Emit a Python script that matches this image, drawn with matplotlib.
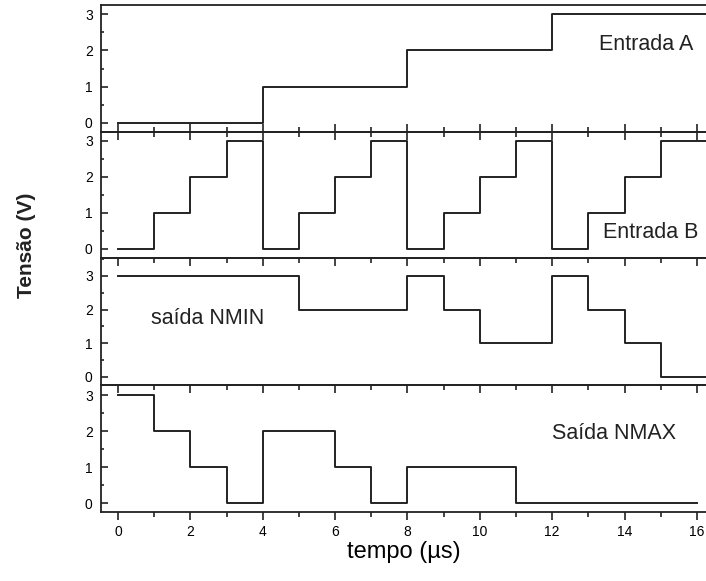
import matplotlib.pyplot as plt
from matplotlib.ticker import MultipleLocator

plt.rcParams['font.family'] = ['Liberation Sans', 'DejaVu Sans']

# tempo (us) - one value per 1 us interval
t = list(range(17))
entrada_a = [0, 0, 0, 0, 1, 1, 1, 1, 2, 2, 2, 2, 3, 3, 3, 3]
entrada_b = [0, 1, 2, 3, 0, 1, 2, 3, 0, 1, 2, 3, 0, 1, 2, 3]
saida_nmin = [3, 3, 3, 3, 3, 2, 2, 2, 3, 2, 1, 1, 3, 2, 1, 0]
saida_nmax = [3, 2, 1, 0, 2, 2, 1, 0, 1, 1, 1, 0, 0, 0, 0, 0]

labels = ['Entrada A', 'Entrada B', 'saída NMIN', 'Saída NMAX']
label_pos = [(13.3, 2.15), (13.4, 0.45), (0.9, 1.72), (12.0, 1.94)]
series = [entrada_a, entrada_b, saida_nmin, saida_nmax]
t_end = [16.6, 16.6, 16.6, 16]

W, H = 706, 581
fig = plt.figure(figsize=(W / 100, H / 100), dpi=100)

# panel bounds in pixels (top, bottom)
bounds = [(5, 132), (132, 258), (258, 385), (385, 512)]
ylims = [(-0.25, 3.25), (-0.25, 3.25), (-0.24, 3.53), (-0.25, 3.28)]
left, right = 101, 707
col = '#222222'

for i in range(4):
    top, bot = bounds[i]
    ax = fig.add_axes([left / W, 1 - bot / H, (right - left) / W, (bot - top) / H])
    ax.set_facecolor('none')
    x = t[:16] + [t_end[i]]
    y = series[i] + [series[i][-1]]
    ax.step(x, y, where='post', color=col, lw=1.4)
    ax.set_xlim(-0.47, 16.28)
    ax.set_ylim(*ylims[i])
    ax.yaxis.set_major_locator(MultipleLocator(1))
    ax.yaxis.set_minor_locator(MultipleLocator(0.5))
    ax.xaxis.set_major_locator(MultipleLocator(2))
    ax.xaxis.set_minor_locator(MultipleLocator(1))
    for s in ax.spines.values():
        s.set_color(col)
        s.set_linewidth(1.3)
    ax.tick_params(axis='y', which='both', direction='in', color=col, labelsize=10, pad=6)
    ax.tick_params(axis='y', which='major', length=5, width=1.2)
    ax.tick_params(axis='y', which='minor', length=2.5, width=1.2)
    if i == 0:
        ax.tick_params(axis='x', which='both', direction='in', bottom=True, top=False,
                       labelbottom=False, color=col)
    else:
        ax.tick_params(axis='x', which='both', direction='in', bottom=False, top=True,
                       labelbottom=False, color=col)
    ax.tick_params(axis='x', which='major', length=6, width=1.2)
    ax.tick_params(axis='x', which='minor', length=3.5, width=1.2)
    ax.text(label_pos[i][0], label_pos[i][1], labels[i], fontsize=15.5,
            ha='left', va='center', color=col)
    if i == 3:
        sec = ax.secondary_xaxis('bottom')
        sec.xaxis.set_major_locator(MultipleLocator(2))
        sec.xaxis.set_minor_locator(MultipleLocator(1))
        sec.spines['bottom'].set_visible(False)
        sec.tick_params(which='both', direction='out', color=col, labelsize=10, pad=3)
        sec.tick_params(which='major', length=6, width=1.2)
        sec.tick_params(which='minor', length=3.5, width=1.2)
        sec.set_xlabel('tempo (µs)', fontsize=17, labelpad=2)

fig.text(26 / W, 1 - 245 / H, 'Tensão (V)', rotation=90, fontsize=15,
         fontweight='bold', ha='center', va='center', color=col)

fig.savefig('out.png', dpi=100)
